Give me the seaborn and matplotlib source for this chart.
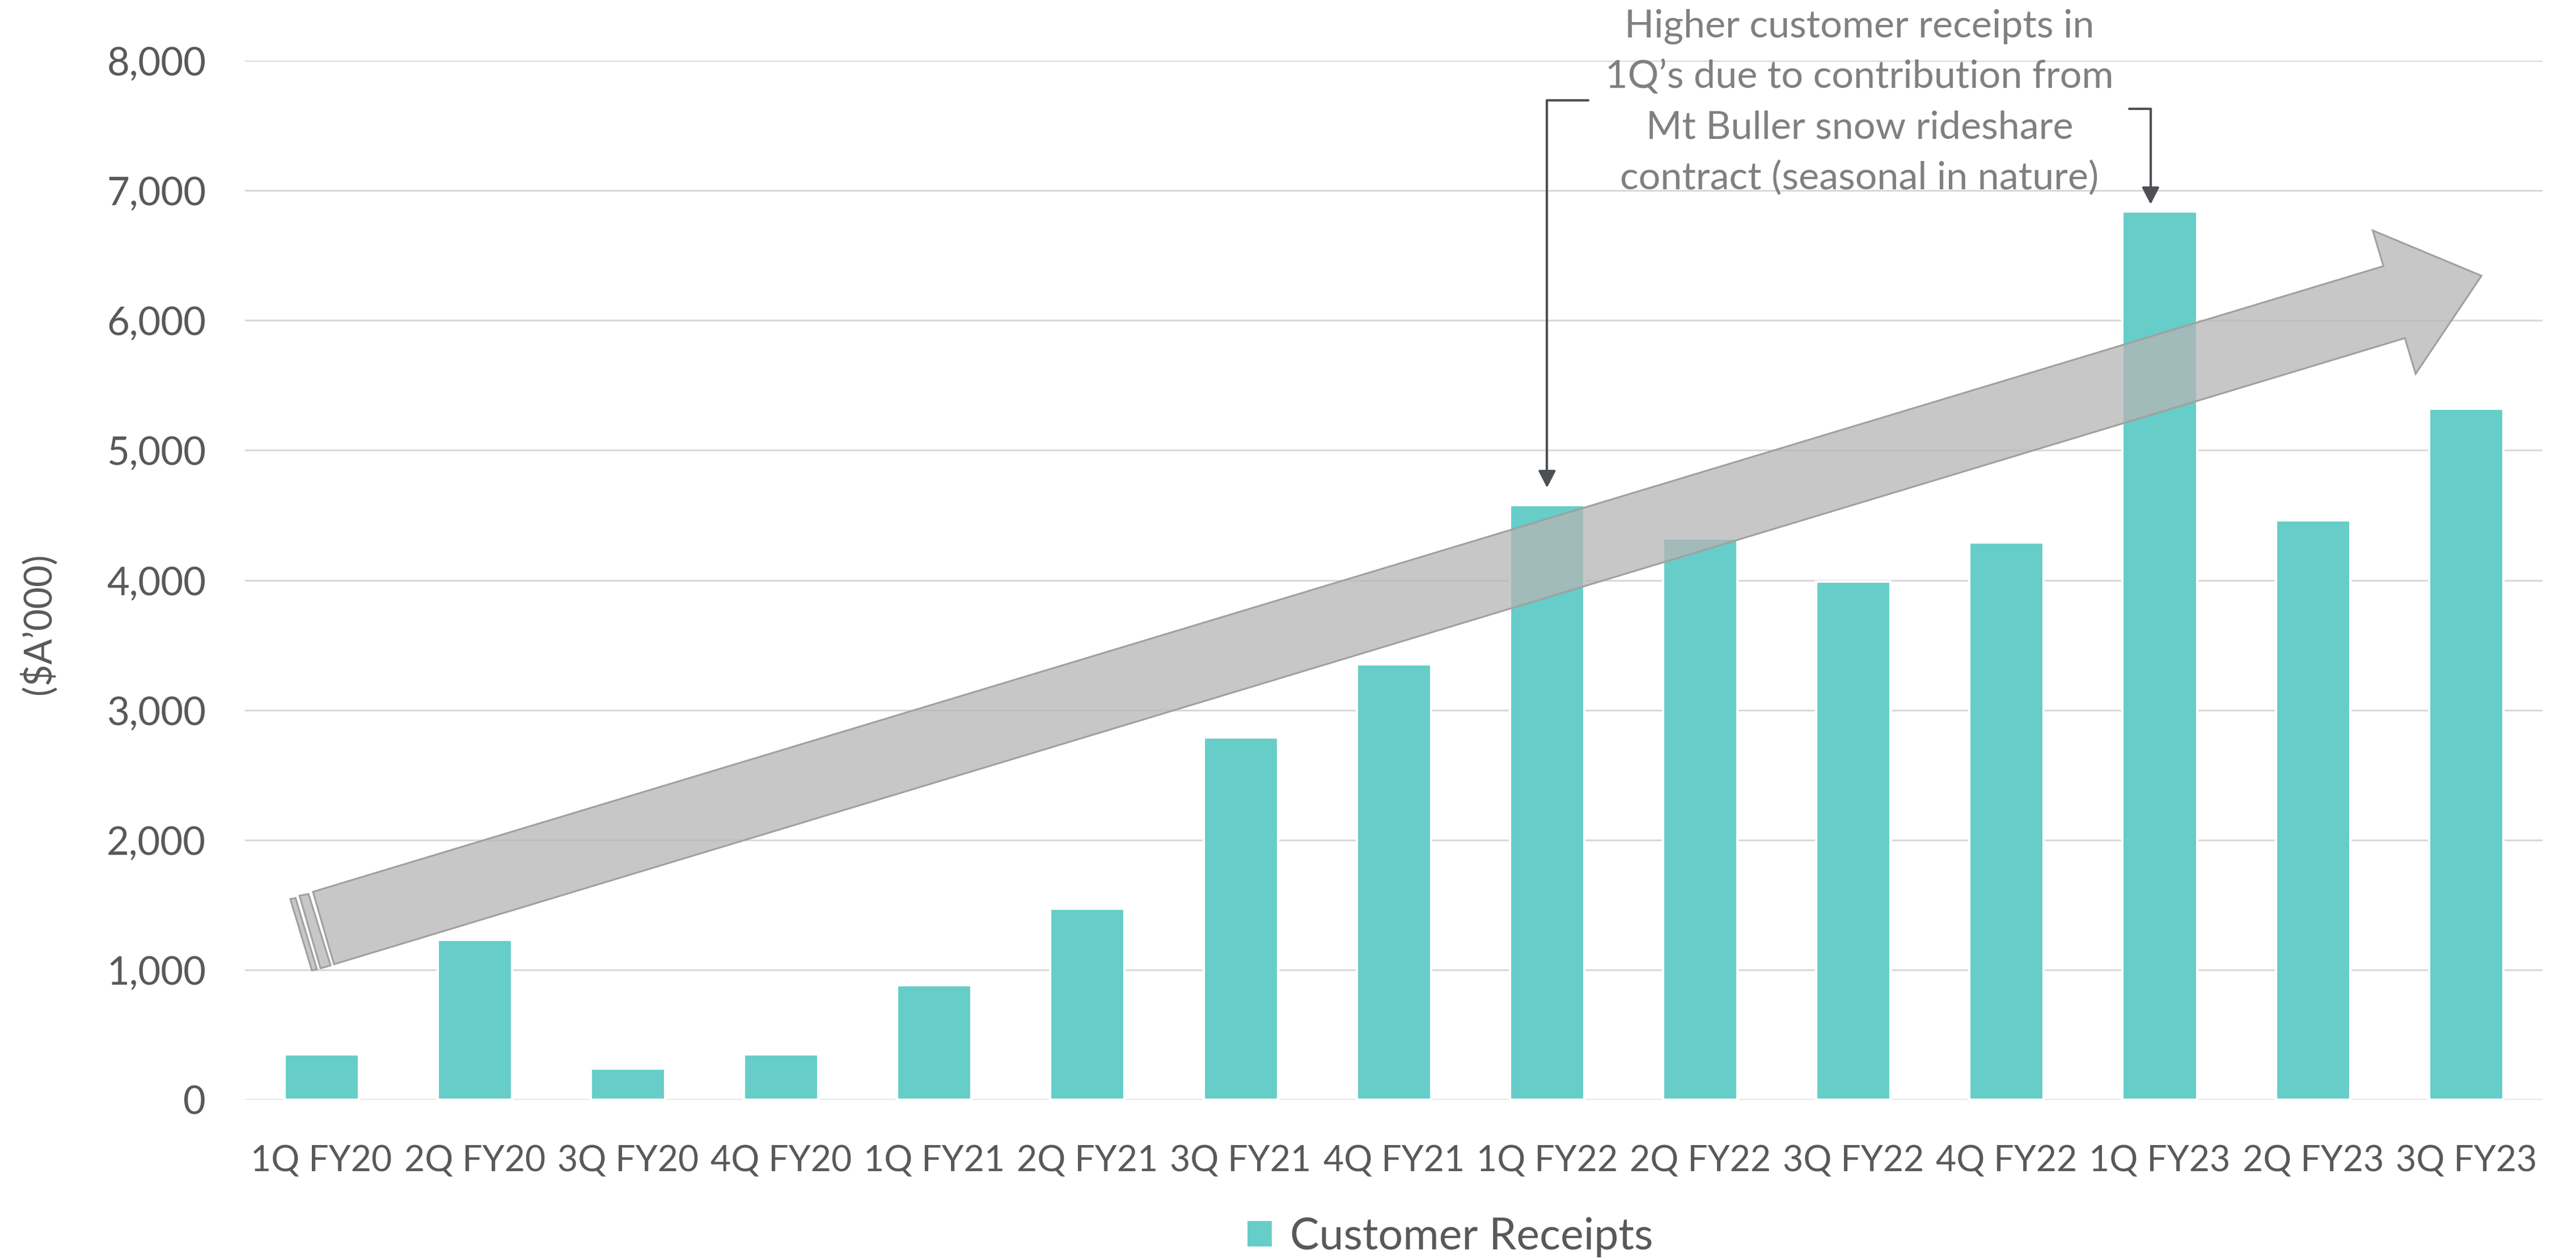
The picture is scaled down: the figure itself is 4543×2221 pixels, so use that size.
import matplotlib
matplotlib.use('Agg')
import matplotlib.pyplot as plt
from matplotlib.patches import Polygon
from matplotlib.ticker import FuncFormatter
import seaborn as sns
import pandas as pd

# ── data ──
QUARTERS = ['1Q FY20', '2Q FY20', '3Q FY20', '4Q FY20',
            '1Q FY21', '2Q FY21', '3Q FY21', '4Q FY21',
            '1Q FY22', '2Q FY22', '3Q FY22', '4Q FY22',
            '1Q FY23', '2Q FY23', '3Q FY23']
RECEIPTS = [350, 1230, 240, 350, 880, 1470, 2790, 3350,
            4580, 4320, 3990, 4290, 6840, 4460, 5320]
SERIES_NAME = 'Customer Receipts'
Y_TICKS = [0, 1000, 2000, 3000, 4000, 5000, 6000, 7000, 8000]
Y_LABEL = '($A\u2019000)'
NOTE_LINES = ['Higher customer receipts in',
              '1Q\u2019s due to contribution from',
              'Mt Buller snow rideshare',
              'contract (seasonal in nature)']

BAR_COLOR = '#66CDC8'
GRID_COLOR = '#D9D9D9'
TEXT_COLOR = '#595959'
NOTE_COLOR = '#808080'
POINTER_COLOR = '#4D5055'

# trend arrow outline (category index, $A'000)
TREND_ARROW = [(-0.056, 1601), (13.46, 6418), (13.39, 6693), (14.10, 6344),
               (13.67, 5589), (13.60, 5864), (0.081, 1043)]
TREND_STRIPES = [
    [(-0.144, 1571), (-0.085, 1584), (0.059, 1034), (-0.007, 1012)],
    [(-0.204, 1545), (-0.170, 1553), (-0.030, 1004), (-0.063, 995)],
]

sns.set_style('white')
plt.rcParams['font.family'] = ['Lato', 'DejaVu Sans']

fig = plt.figure(figsize=(4543 / 300, 2221 / 300), dpi=300)
ax = fig.add_axes([0.0951, 0.1265, 0.892, 0.8253])

df = pd.DataFrame({'quarter': QUARTERS, 'receipts': RECEIPTS})
sns.barplot(data=df, x='quarter', y='receipts', color=BAR_COLOR, saturation=1,
            width=0.485, errorbar=None, label=SERIES_NAME, ax=ax, zorder=2)
handles, labels = ax.get_legend_handles_labels()
if ax.get_legend() is not None:
    ax.get_legend().remove()

ax.set_xlim(-0.5, 14.5)
ax.set_ylim(0, 8000)
ax.set_yticks(Y_TICKS)
ax.yaxis.set_major_formatter(FuncFormatter(lambda v, _: f'{v:,.0f}'))
ax.yaxis.grid(True, color=GRID_COLOR, linewidth=0.75)
ax.set_axisbelow(True)
for s in ax.spines.values():
    s.set_visible(False)
ax.tick_params(axis='both', length=0, labelcolor=TEXT_COLOR)
ax.tick_params(axis='y', pad=16.5, labelsize=16.5)
ax.tick_params(axis='x', pad=19, labelsize=15)
ax.set_xlabel('')
ax.set_ylabel('')
fig.text(67 / 4543, 1 - 1100 / 2221, Y_LABEL, rotation=90, ha='center', va='center',
         fontsize=16, color=TEXT_COLOR)

# ── trend arrow ──
arrow_face = (0.71, 0.71, 0.71, 0.75)
ax.add_patch(Polygon(TREND_ARROW, closed=True, facecolor=arrow_face,
                     edgecolor='#A0A0A0', linewidth=0.75, zorder=3))
for stripe in TREND_STRIPES:
    ax.add_patch(Polygon(stripe, closed=True, facecolor=arrow_face,
                         edgecolor='#A0A0A0', linewidth=0.75, zorder=3))

# ── note + pointers ──
for i, line in enumerate(NOTE_LINES):
    ax.text(10.04, 8180 - i * 390, line, ha='center', va='baseline', fontsize=16.4,
            color=NOTE_COLOR, clip_on=False, zorder=5)

pointer_style = dict(arrowstyle='-|>,head_length=0.6,head_width=0.31',
                     connectionstyle='angle,angleA=0,angleB=90,rad=0',
                     color=POINTER_COLOR, lw=1.0, shrinkA=0, shrinkB=0)
ax.annotate('', xy=(8.0, 4712), xytext=(8.27, 7694), arrowprops=pointer_style,
            annotation_clip=False, zorder=4)
ax.annotate('', xy=(11.94, 6894), xytext=(11.80, 7631), arrowprops=pointer_style,
            annotation_clip=False, zorder=4)

fig.legend(handles, labels, loc='center', bbox_to_anchor=(2557 / 4543, 1 - 2182 / 2221),
           frameon=False, fontsize=18.5, handlelength=0.6, handleheight=0.6,
           handletextpad=0.4, labelcolor=TEXT_COLOR)

fig.savefig('out.png', dpi=300, facecolor='white')
